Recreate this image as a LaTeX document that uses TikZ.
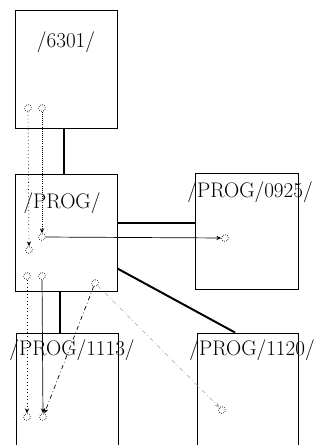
\documentclass[tikz,border=0pt]{standalone}
\usepackage{tikz}
\usetikzlibrary{arrows.meta,positioning,calc}

\tikzset{
  dirbox/.style={draw, line width=0.6pt, inner sep=0pt},
  lbl/.style={font=\fontsize{15}{17}\selectfont, inner sep=0pt},
  port/.style={circle, draw, densely dotted, line width=0.5pt, inner sep=0pt, minimum size=0.17cm},
  bus/.style={line width=1.4pt},
  ref/.style={line width=0.5pt, -{Stealth[length=3.5pt,width=3pt]}},
}

\begin{document}
\begin{tikzpicture}[x=0.025cm, y=-0.025cm]
  \useasboundingbox (0,0) rectangle (321,445);
  \clip (0,0) rectangle (321,445);

  % directories
  \node[dirbox, minimum width=2.55cm, minimum height=2.95cm] (d6301) at (66,69) {};
  \node[dirbox, minimum width=2.55cm, minimum height=2.925cm] (prog) at (66,232.5) {};
  \node[dirbox, minimum width=2.575cm, minimum height=2.9cm] (p0925) at (246.5,231) {};
  \node[dirbox, minimum width=2.55cm, minimum height=3.175cm] (p1113) at (67,396.5) {};
  \node[dirbox, minimum width=2.525cm, minimum height=3.175cm] (p1120) at (247.5,396.5) {};

  \node[lbl] (t6301) at (66,42) {/6301/};
  \node[lbl] (tprog) at (62,203) {/PROG/};
  \node[lbl] (t0925) at (250,192) {/PROG/0925/};
  \node[lbl] (t1113) at (72,350) {/PROG/1113/};
  \node[lbl] (t1120) at (252,350) {/PROG/1120/};

  % tree links
  \draw[bus] (d6301.-92) -- (d6301.-92 |- prog.north);
  \draw[bus] (prog.10) -- (prog.10 -| p0925.west);
  \draw[bus] (prog.-96) -- (prog.-96 |- p1113.north);
  \draw[bus] (prog.-35) -- (p1120.101);

  % entries
  \node[port] (a1) at (28,108) {};
  \node[port] (a2) at (42,108) {};
  \node[port] (b1) at (42,237) {};
  \node[port] (b2) at (29,250) {};
  \node[port] (b3) at (27,276) {};
  \node[port] (b4) at (42,276) {};
  \node[port] (b5) at (95,283) {};
  \node[port] (c1) at (225,238) {};
  \node[port] (e1) at (27,417) {};
  \node[port] (e2) at (43,417) {};
  \node[port] (f1) at (222,410) {};

  % references
  \draw[ref, dotted] (a1) -- (b2);
  \draw[ref, densely dotted] (a2) -- (b1);
  \draw[ref] (b1) -- (c1);
  \draw[ref, dotted] (b3) -- (e1);
  \draw[ref] (b4) -- (e2);
  \draw[ref, dash dot] (b5) -- (e2);
  \draw[ref, dash dot, gray!70] (b5) -- (f1);
\end{tikzpicture}
\end{document}
